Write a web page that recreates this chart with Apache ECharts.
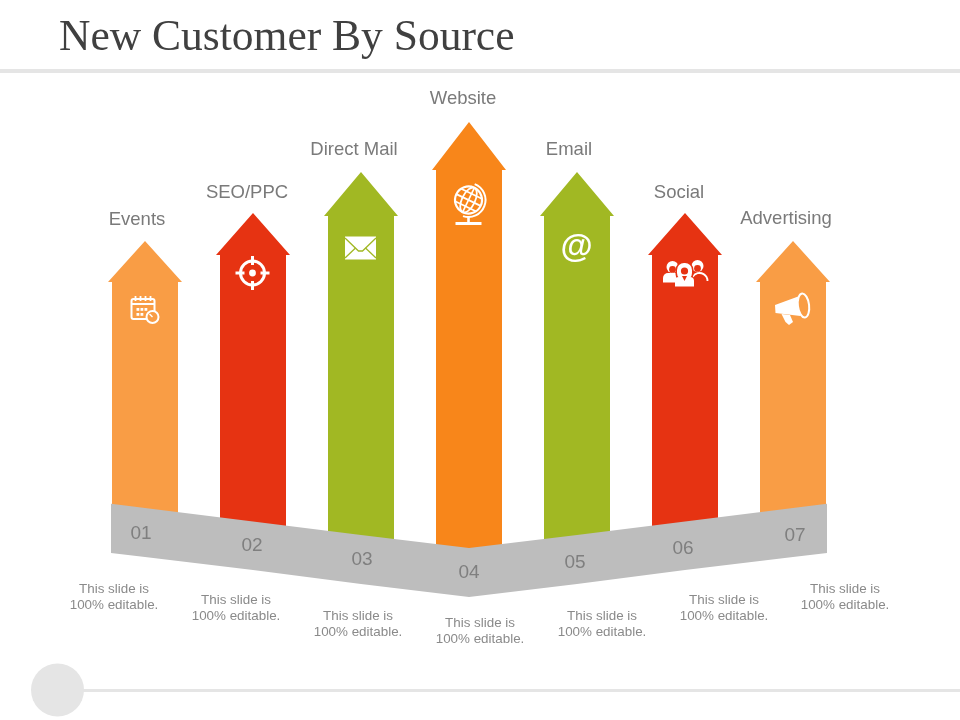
<!DOCTYPE html>
<html>
<head>
<meta charset="utf-8">
<title>New Customer By Source</title>
<script src="https://cdn.jsdelivr.net/npm/echarts@6/dist/echarts.min.js"></script>
<style>
  html, body { margin: 0; padding: 0; background: #fff; }
  #chart { width: 960px; height: 720px; }
</style>
</head>
<body>
<div id="chart"></div>
<script>
// values, y axis runs 0..720
const categories = ["Events", "SEO/PPC", "Direct Mail", "Website", "Email", "Social", "Advertising"];
const numbers = ["01", "02", "03", "04", "05", "06", "07"];
const tipValues = [479, 507, 548, 598, 548, 507, 479];
const shoulderValues = [438, 465, 504, 550, 504, 465, 438];
const bandTop = [212, 198.5, 185, 172, 185, 198.5, 212];
const bandBottom = [163, 150, 136, 123, 136, 150, 163];
const captionValues = [123, 112, 96, 89, 96, 112, 123];
const captions = Array(7).fill("This slide is\n100% editable.");

// layout, in pixels relative to each arrow
const colors = ["#F99D45", "#E63312", "#A1B823", "#F8861A", "#A1B823", "#E63312", "#F99D45"];
const labelShift = [[-8, -21], [-6, -20], [-7, -22], [-6, -23], [-8, -22], [-6, -20], [-7, -22]];
const numberShift = [[-4, 1], [-1, 0], [1, 0], [0, 0], [-2, 3], [-2, 3], [2, 3]];
const captionShift = [-31, -17, -3, 11, 25, 39, 52];
const iconDrop = [69, 60, 76, 82, 76, 60, 69];

const bodyHalf = 33;
const headHalf = 37;
const bandOverhang = 34 / 108;
const textFont = '"Liberation Sans", Arial, sans-serif';

function stroke(width) {
  return { fill: "none", stroke: "#fff", lineWidth: width };
}

function iconCalendar(color) {
  const kids = [
    { type: "rect", shape: { x: -13, y: -11, width: 23, height: 20, r: 2 }, style: stroke(2) },
    { type: "line", shape: { x1: -13, y1: -6, x2: 10, y2: -6 }, style: stroke(2) },
    { type: "circle", shape: { cx: 8, cy: 7, r: 6 }, style: { fill: color, stroke: "#fff", lineWidth: 2 } },
    { type: "line", shape: { x1: 8, y1: 7, x2: 5, y2: 4 }, style: stroke(1.4) }
  ];
  [-9, -4, 1, 6].forEach(x => {
    kids.push({ type: "line", shape: { x1: x, y1: -14, x2: x, y2: -9 }, style: stroke(1.8) });
  });
  [[-8, -2], [-4, -2], [0, -2], [-8, 3], [-4, 3]].forEach(p => {
    kids.push({ type: "rect", shape: { x: p[0], y: p[1], width: 2.8, height: 2.8 }, style: { fill: "#fff" } });
  });
  return kids;
}

function iconTarget() {
  const kids = [
    { type: "circle", shape: { cx: 0, cy: 0, r: 12 }, style: stroke(3) },
    { type: "circle", shape: { cx: 0, cy: 0, r: 3.4 }, style: { fill: "#fff" } }
  ];
  [[0, -1], [0, 1], [-1, 0], [1, 0]].forEach(d => {
    kids.push({ type: "line", shape: { x1: d[0] * 8, y1: d[1] * 8, x2: d[0] * 17, y2: d[1] * 17 }, style: stroke(3) });
  });
  return kids;
}

function iconMail(color) {
  const line = { fill: "none", stroke: color, lineWidth: 1.3 };
  return [
    { type: "rect", shape: { x: -15.5, y: -11.5, width: 31, height: 23 }, style: { fill: "#fff" } },
    { type: "polyline", shape: { points: [[-15.5, -10], [-2, 3], [2, 3], [15.5, -10]] }, style: line },
    { type: "line", shape: { x1: -15.5, y1: 10, x2: -5, y2: 0 }, style: line },
    { type: "line", shape: { x1: 15.5, y1: 10, x2: 5, y2: 0 }, style: line }
  ];
}

function iconGlobe() {
  const globe = [
    { type: "circle", shape: { cx: 0, cy: 0, r: 13.5 }, style: stroke(2.2) },
    { type: "ellipse", shape: { cx: 0, cy: 0, rx: 6.5, ry: 13.5 }, style: stroke(1.8) },
    { type: "line", shape: { x1: 0, y1: -13.5, x2: 0, y2: 13.5 }, style: stroke(1.6) },
    { type: "line", shape: { x1: -13.5, y1: 0, x2: 13.5, y2: 0 }, style: stroke(1.8) },
    { type: "line", shape: { x1: -11.5, y1: -7, x2: 11.5, y2: -7 }, style: stroke(1.8) },
    { type: "line", shape: { x1: -11.5, y1: 7, x2: 11.5, y2: 7 }, style: stroke(1.8) }
  ];
  return [
    { type: "group", x: 0, y: -4, rotation: -0.45, children: globe },
    { type: "arc", shape: { cx: 0, cy: -4, r: 17, startAngle: -1.2, endAngle: 1.9, clockwise: true }, style: stroke(2) },
    { type: "line", shape: { x1: 0, y1: 12, x2: 0, y2: 19 }, style: stroke(2.6) },
    { type: "rect", shape: { x: -13, y: 18, width: 26, height: 3 }, style: { fill: "#fff" } }
  ];
}

function iconAt() {
  return [{
    type: "text",
    style: { text: "@", x: 0, y: 0, font: 'bold 33px "Liberation Sans", sans-serif', fill: "#fff", align: "center", verticalAlign: "middle" }
  }];
}

function person(cx, cy, color) {
  return [
    { type: "circle", shape: { cx: cx, cy: cy, r: 6 }, style: { fill: "#fff" } },
    { type: "circle", shape: { cx: cx, cy: cy + 2.4, r: 3.4 }, style: { fill: color } }
  ];
}

function iconSocial(color) {
  return [
    ...person(-12, -6, color),
    { type: "rect", shape: { x: -21.5, y: 0, width: 14, height: 9.5, r: [5, 1, 0, 0] }, style: { fill: "#fff" } },
    ...person(13, -7, color),
    { type: "arc", shape: { cx: 15, cy: 8, r: 8, startAngle: -2.6, endAngle: 0, clockwise: true }, style: stroke(1.8) },
    { type: "rect", shape: { x: -9, y: -11, width: 18, height: 20, r: 8 }, style: { fill: color } },
    { type: "rect", shape: { x: -7.5, y: -10, width: 15, height: 17, r: 7 }, style: { fill: "#fff" } },
    { type: "circle", shape: { cx: 0, cy: -2, r: 3.6 }, style: { fill: color } },
    { type: "rect", shape: { x: -9.5, y: 4, width: 19, height: 9.5, r: [4, 4, 0, 0] }, style: { fill: "#fff" } },
    { type: "polygon", shape: { points: [[-2.5, 3], [2.5, 3], [0, 8]] }, style: { fill: color } }
  ];
}

function iconMegaphone(color) {
  return [
    { type: "polygon", shape: { points: [[-17.5, -5], [7, -14], [8, 6], [-17, 3]] }, style: { fill: "#fff" } },
    { type: "group", x: 11, y: -4.5, rotation: 0.12, children: [
      { type: "ellipse", shape: { cx: 0, cy: 0, rx: 5.6, ry: 12 }, style: { fill: color, stroke: "#fff", lineWidth: 2 } }
    ] },
    { type: "polygon", shape: { points: [[-11, 4], [-2.5, 5], [0.5, 12], [-3.5, 15], [-7, 12]] }, style: { fill: "#fff" } }
  ];
}

const iconMakers = [iconCalendar, iconTarget, iconMail, iconGlobe, iconAt, iconSocial, iconMegaphone];

const pointData = categories.map((c, i) => [i, tipValues[i]]);

function renderArrow(params, api) {
  const i = params.dataIndex;
  const tip = api.coord([i, tipValues[i]]);
  const shoulderY = api.coord([i, shoulderValues[i]])[1];
  // runs under the grey band, which hides the foot
  const footY = api.coord([i, bandBottom[i] + 20])[1];
  const x = tip[0];
  return {
    type: "polygon",
    shape: {
      points: [
        [x, tip[1]],
        [x + headHalf, shoulderY],
        [x + bodyHalf, shoulderY],
        [x + bodyHalf, footY],
        [x - bodyHalf, footY],
        [x - bodyHalf, shoulderY],
        [x - headHalf, shoulderY]
      ]
    },
    style: { fill: colors[i] }
  };
}

function renderBand(params, api) {
  const top = categories.map((c, i) => api.coord([i, bandTop[i]]));
  const bottom = categories.map((c, i) => api.coord([i, bandBottom[i]]));
  const extend = (a, b) => [a[0] + (a[0] - b[0]) * bandOverhang, a[1] + (a[1] - b[1]) * bandOverhang];
  const n = top.length - 1;
  const points = [
    extend(top[0], top[1]),
    ...top,
    extend(top[n], top[n - 1]),
    extend(bottom[n], bottom[n - 1]),
    ...bottom.slice().reverse(),
    extend(bottom[0], bottom[1])
  ];
  return { type: "polygon", shape: { points: points }, style: { fill: "#BDBDBD" } };
}

function renderIcon(params, api) {
  const i = params.dataIndex;
  const tip = api.coord([i, tipValues[i]]);
  return { type: "group", x: tip[0] - 0.5, y: tip[1] + iconDrop[i], children: iconMakers[i](colors[i]) };
}

function renderLabel(params, api) {
  const i = params.dataIndex;
  const tip = api.coord([i, tipValues[i]]);
  return {
    type: "text",
    style: {
      text: categories[i],
      x: tip[0] + labelShift[i][0],
      y: tip[1] + labelShift[i][1],
      font: "18.5px " + textFont,
      fill: "#7A7A7A",
      align: "center",
      verticalAlign: "middle"
    }
  };
}

function renderNumber(params, api) {
  const i = params.dataIndex;
  const p = api.coord([i, (bandTop[i] + bandBottom[i]) / 2]);
  return {
    type: "text",
    style: {
      text: numbers[i],
      x: p[0] + numberShift[i][0],
      y: p[1] + numberShift[i][1],
      font: "19px " + textFont,
      fill: "#7F7F7F",
      align: "center",
      verticalAlign: "middle"
    }
  };
}

function renderCaption(params, api) {
  const i = params.dataIndex;
  const p = api.coord([i, captionValues[i]]);
  return {
    type: "text",
    style: {
      text: captions[i],
      x: p[0] + captionShift[i],
      y: p[1],
      font: "13.4px " + textFont,
      lineHeight: 16,
      fill: "#8A8A8A",
      align: "center",
      verticalAlign: "middle"
    }
  };
}

function layer(renderItem, z, data) {
  return { type: "custom", renderItem: renderItem, data: data || pointData, z: z, silent: true, animation: false, clip: false };
}

const chart = echarts.init(document.getElementById("chart"), null, { renderer: "canvas" });
chart.setOption({
  animation: false,
  backgroundColor: "#fff",
  title: {
    text: "New Customer By Source",
    left: 54,
    top: 12,
    textStyle: { fontFamily: '"Liberation Serif", serif', fontSize: 43.5, fontWeight: "normal", color: "#404040" }
  },
  grid: { left: 91, width: 756, top: 0, bottom: 0 },
  xAxis: { type: "category", data: categories, show: false },
  yAxis: { type: "value", min: 0, max: 720, show: false },
  graphic: [
    { type: "rect", shape: { x: 0, y: 69, width: 960, height: 4 }, style: { fill: "#E5E5E5" } },
    { type: "rect", shape: { x: 80, y: 689, width: 880, height: 3 }, style: { fill: "#E5E5E5" } },
    { type: "circle", shape: { cx: 57.5, cy: 690, r: 26.5 }, style: { fill: "#E5E5E5" } }
  ],
  series: [
    layer(renderArrow, 2),
    layer(renderBand, 3, [[0, 0]]),
    layer(renderIcon, 4),
    layer(renderLabel, 4),
    layer(renderNumber, 4),
    layer(renderCaption, 4)
  ]
});
</script>
</body>
</html>
